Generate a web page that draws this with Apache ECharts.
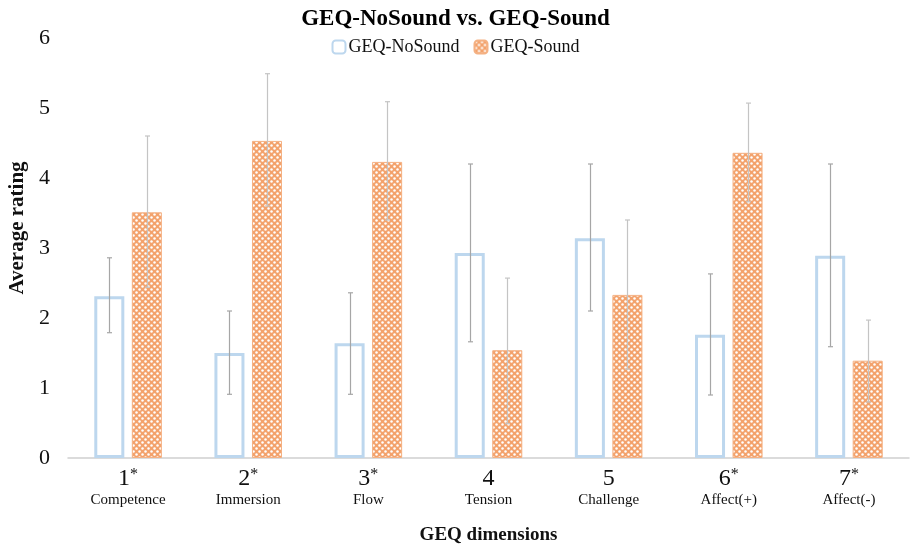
<!DOCTYPE html>
<html>
<head>
<meta charset="utf-8">
<script src="https://cdn.jsdelivr.net/npm/echarts@6/dist/echarts.min.js"></script>
<style>html,body{margin:0;padding:0;background:#fff;}#c{width:911px;height:546px;}</style>
</head>
<body>
<div id="c"></div>
<script>
const catNums = ['1', '2', '3', '4', '5', '6', '7'];
const catStars = [true, true, true, false, false, true, true];
const catNames = ['Competence', 'Immersion', 'Flow', 'Tension', 'Challenge', 'Affect(+)', 'Affect(-)'];
const yTicks = [0, 1, 2, 3, 4, 5, 6];
const noSound = [2.31, 1.50, 1.64, 2.93, 3.14, 1.76, 2.89];
const noSoundLow = [1.79, 0.91, 0.91, 1.66, 2.10, 0.90, 1.59];
const noSoundHigh = [2.86, 2.10, 2.36, 4.20, 4.20, 2.63, 4.20];
const sound = [3.51, 4.53, 4.23, 1.54, 2.33, 4.36, 1.39];
const soundLow = [2.44, 3.60, 3.40, 0.49, 1.27, 3.66, 0.80];
const soundHigh = [4.60, 5.49, 5.09, 2.57, 3.40, 5.07, 1.97];

const FONT = '"Liberation Serif", "Times New Roman", serif';

function makePattern() {
  const c = document.createElement('canvas');
  c.width = 6; c.height = 6;
  const g = c.getContext('2d');
  g.fillStyle = '#f3a26c';
  g.fillRect(0, 0, 6, 6);
  g.fillStyle = '#ffffff';
  [[1.5, 1.5], [4.5, 4.5]].forEach(function (p) {
    g.beginPath(); g.arc(p[0], p[1], 1.25, 0, Math.PI * 2); g.fill();
  });
  return c;
}
const pattern = { image: makePattern(), repeat: 'repeat' };

const BW = 0.25, GAP = 0.25;
function errRender(sign, color) {
  return function (params, api) {
    const x = api.value(0);
    const lo = api.coord([x, api.value(1)]);
    const hi = api.coord([x, api.value(2)]);
    const band = api.size([1, 0])[0];
    const bw = band * BW;
    const off = sign * (bw + bw * GAP) / 2;
    const cx = Math.round(lo[0] + off) + 0.5;
    const cap = 2.5;
    const style = { stroke: color, lineWidth: 1.2 };
    return {
      type: 'group',
      children: [
        { type: 'line', shape: { x1: cx, y1: lo[1], x2: cx, y2: hi[1] }, style: style },
        { type: 'line', shape: { x1: cx - cap, y1: lo[1], x2: cx + cap, y2: lo[1] }, style: style },
        { type: 'line', shape: { x1: cx - cap, y1: hi[1], x2: cx + cap, y2: hi[1] }, style: style }
      ]
    };
  };
}

const rich = {
  n: { fontFamily: FONT, fontSize: 24, color: '#111', lineHeight: 24 },
  s: { fontFamily: FONT, fontSize: 16, color: '#111', padding: [0, 0, 9, 0], lineHeight: 24 },
  t: { fontFamily: FONT, fontSize: 15, color: '#111', lineHeight: 18 }
};

const chart = echarts.init(document.getElementById('c'), null, { renderer: 'canvas' });
chart.setOption({
  animation: false,
  backgroundColor: '#ffffff',
  title: {
    text: 'GEQ-NoSound vs. GEQ-Sound',
    left: 'center',
    top: 3,
    textStyle: { fontFamily: FONT, fontSize: 23, fontWeight: 'bold', color: '#000' }
  },
  legend: {
    data: ['GEQ-NoSound', 'GEQ-Sound'],
    top: 33,
    left: 'center',
    itemWidth: 13,
    itemHeight: 13,
    itemGap: 14,
    textStyle: { fontFamily: FONT, fontSize: 18, color: '#111', padding: [0, 0, 0, -2] }
  },
  grid: { left: 68, right: 2, top: 38, bottom: 88, containLabel: false, outerBoundsMode: 'none' },
  xAxis: {
    type: 'category',
    data: catNums,
    name: 'GEQ dimensions',
    nameLocation: 'middle',
    nameGap: 68,
    nameTextStyle: { fontFamily: FONT, fontSize: 19, fontWeight: 'bold', color: '#111' },
    axisLine: { lineStyle: { color: '#d0d0d0', width: 1.5 } },
    axisTick: { show: false },
    axisLabel: {
      margin: 9,
      interval: 0,
      rich: rich,
      formatter: function (v, i) {
        return '{n|' + v + '}' + (catStars[i] ? '{s|*}' : '') + '\n{t|' + catNames[i] + '}';
      }
    }
  },
  yAxis: {
    type: 'value',
    min: yTicks[0],
    max: yTicks[yTicks.length - 1],
    interval: 1,
    name: 'Average rating',
    nameLocation: 'middle',
    nameGap: 40,
    nameTextStyle: { fontFamily: FONT, fontSize: 21, fontWeight: 'bold', color: '#111', padding: [0, 0, 0, 40] },
    axisLine: { show: false },
    axisTick: { show: false },
    splitLine: { show: false },
    axisLabel: { fontFamily: FONT, fontSize: 22, color: '#111', margin: 18 }
  },
  series: [
    {
      name: 'GEQ-NoSound',
      type: 'bar',
      data: noSound,
      barWidth: (BW * 100) + '%',
      barGap: (GAP * 100) + '%',
      itemStyle: { color: '#ffffff', borderColor: '#bdd7ee', borderWidth: 3 }
    },
    {
      name: 'GEQ-Sound',
      type: 'bar',
      data: sound,
      barWidth: (BW * 100) + '%',
      itemStyle: { color: pattern, borderColor: '#f4b183', borderWidth: 1 }
    },
    {
      name: 'GEQ-NoSound',
      type: 'custom',
      renderItem: errRender(-1, '#a6a6a6'),
      data: noSound.map(function (v, i) { return [i, noSoundLow[i], noSoundHigh[i]]; }),
      encode: { x: 0, y: [1, 2] },
      z: 5
    },
    {
      name: 'GEQ-Sound',
      type: 'custom',
      renderItem: errRender(1, '#c4c4c4'),
      data: sound.map(function (v, i) { return [i, soundLow[i], soundHigh[i]]; }),
      encode: { x: 0, y: [1, 2] },
      z: 5
    }
  ]
});
</script>
</body>
</html>
